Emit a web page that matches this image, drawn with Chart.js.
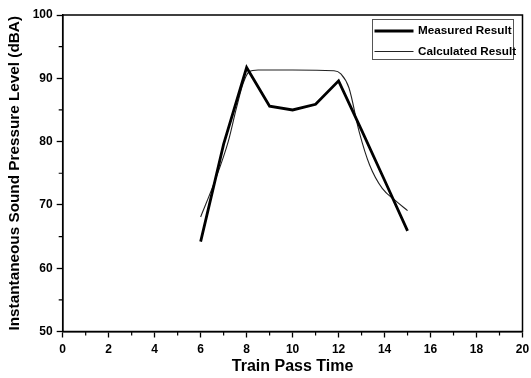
<!DOCTYPE html>
<html>
<head>
<meta charset="utf-8">
<script src="https://cdn.jsdelivr.net/npm/chart.js@4.4.1/dist/chart.umd.min.js"></script>
<style>
  html, body { margin: 0; padding: 0; background: #fff; }
  #wrap { width: 531px; height: 378px; }
</style>
</head>
<body>
<div id="wrap"><canvas id="spl"></canvas></div>
<script>
// Data
const measuredTime = [6, 7, 8, 9, 10, 11, 12, 13, 14, 15];
const measuredLevel = [64.2, 79.6, 91.7, 85.6, 85.0, 85.9, 89.6, 81.8, 73.9, 65.9];
const calcTime = [6, 6.6, 7.2, 7.55, 7.85, 8.1, 8.5, 10, 11.8, 12.1, 12.45, 12.9, 13.35, 13.9, 14.5, 15];
const calcLevel = [68.1, 73.6, 80.0, 85.2, 89.2, 91.0, 91.3, 91.3, 91.2, 90.7, 88.5, 81.5, 76.3, 72.6, 70.6, 69.1];
const xMinorTicks = [1, 3, 5, 7, 9, 11, 13, 15, 17, 19];
const yMinorTicks = [55, 65, 75, 85, 95];

const FONT = "'Liberation Sans', Arial, sans-serif";
const pts = (xs, ys) => xs.map((x, i) => ({ x, y: ys[i] }));

// --- frame, minor ticks and legend box ---
const decorations = {
  id: "decorations",
  afterDraw(chart) {
    const { ctx, chartArea: a, scales } = chart;
    ctx.save();
    ctx.strokeStyle = "#000";
    ctx.lineWidth = 1.5;
    ctx.strokeRect(a.left, a.top, a.right - a.left, a.bottom - a.top);

    ctx.lineWidth = 1.2;
    ctx.beginPath();
    xMinorTicks.forEach(v => {
      const px = scales.x.getPixelForValue(v);
      ctx.moveTo(px, a.bottom);
      ctx.lineTo(px, a.bottom + 4);
    });
    yMinorTicks.forEach(v => {
      const py = scales.y.getPixelForValue(v);
      ctx.moveTo(a.left - 4, py);
      ctx.lineTo(a.left, py);
    });
    ctx.stroke();

    // legend
    const bx = 372.5, by = 19.5, bw = 141, bh = 40;
    ctx.fillStyle = "#fff";
    ctx.fillRect(bx, by, bw, bh);
    ctx.strokeStyle = "#555";
    ctx.lineWidth = 1;
    ctx.strokeRect(bx, by, bw, bh);
    ctx.font = "bold 11.7px " + FONT;
    ctx.textBaseline = "middle";
    chart.data.datasets.forEach((ds, i) => {
      const y = by + 11.5 + i * 20.5;
      ctx.strokeStyle = ds.borderColor;
      ctx.lineWidth = ds.borderWidth;
      ctx.beginPath();
      ctx.moveTo(bx + 2, y);
      ctx.lineTo(bx + 41, y);
      ctx.stroke();
      ctx.fillStyle = "#000";
      ctx.fillText(ds.label, bx + 45.5, y);
    });
    ctx.restore();
  }
};

new Chart(document.getElementById("spl"), {
  type: "line",
  data: {
    datasets: [
      { label: "Measured Result", data: pts(measuredTime, measuredLevel),
        borderColor: "#000", borderWidth: 2.8, pointRadius: 0, tension: 0 },
      { label: "Calculated Result", data: pts(calcTime, calcLevel),
        borderColor: "#222", borderWidth: 1.1, pointRadius: 0, cubicInterpolationMode: "monotone" }
    ]
  },
  options: {
    responsive: true,
    maintainAspectRatio: false,
    animation: false,
    layout: { padding: { left: 0, right: 8.5, top: 15, bottom: 0 } },
    plugins: { legend: { display: false }, tooltip: { enabled: false } },
    scales: {
      x: {
        type: "linear", min: 0, max: 20,
        afterFit: s => { s.height = 46.5; s.paddingLeft = 0; s.paddingRight = 0; },
        ticks: { stepSize: 2, color: "#000", padding: 5, maxRotation: 0,
                 font: { family: FONT, size: 12, weight: "bold" } },
        grid: { drawOnChartArea: false, tickLength: 6, tickColor: "#000", tickWidth: 1.3 },
        border: { color: "#000", width: 1.5 },
        title: { display: true, text: "Train Pass Time", color: "#000",
                 padding: { top: 0, bottom: 1.5 },
                 font: { family: FONT, size: 16, weight: "bold" } }
      },
      y: {
        min: 50, max: 100,
        afterFit: s => { s.width = 62.7; s.paddingTop = 0; s.paddingBottom = 0; },
        ticks: { stepSize: 10, color: "#000", padding: 4,
                 font: { family: FONT, size: 12, weight: "bold" } },
        grid: { drawOnChartArea: false, tickLength: 6, tickColor: "#000", tickWidth: 1.3 },
        border: { color: "#000", width: 1.5 },
        title: { display: true, text: "Instantaneous Sound Pressure Level (dBA)", color: "#000",
                 padding: { top: 5.5, bottom: 0 },
                 font: { family: FONT, size: 15.3, weight: "bold" } }
      }
    }
  },
  plugins: [decorations]
});
</script>
</body>
</html>
